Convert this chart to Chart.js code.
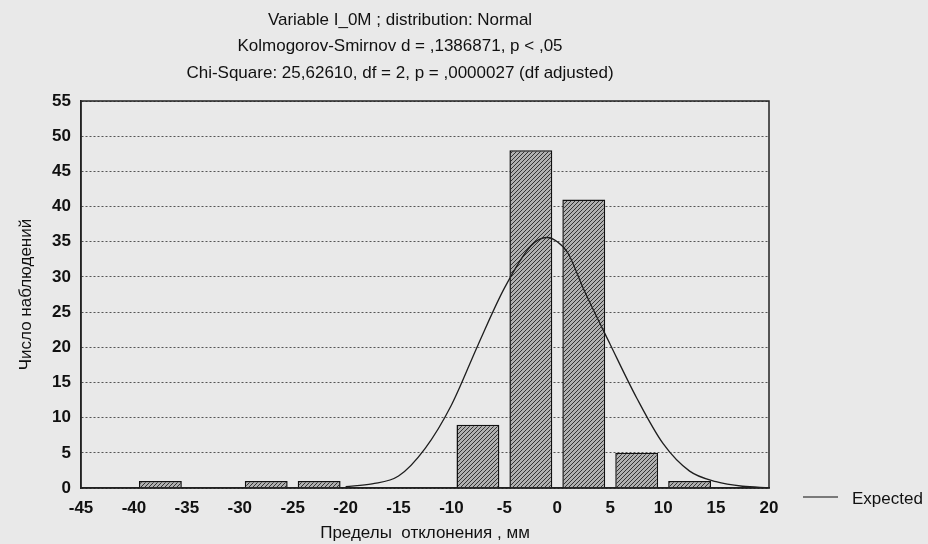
<!DOCTYPE html>
<html>
<head>
<meta charset="utf-8">
<script src="https://cdn.jsdelivr.net/npm/chart.js@4.4.1/dist/chart.umd.min.js"></script>
<style>
  html, body { margin: 0; padding: 0; background: #e9e9e9; }
  #wrap { width: 928px; height: 544px; }
</style>
</head>
<body>
<div id="wrap"><canvas id="grafico" width="928" height="544"></canvas></div>
<script>
// centros de los intervalos (ancho 5 mm) y frecuencias observadas
const centros = [-37.5, -32.5, -27.5, -22.5, -17.5, -12.5, -7.5, -2.5, 2.5, 7.5, 12.5, 17.5];
const frecuencias = [1, 0, 1, 1, 0, 0, 9, 48, 41, 5, 1, 0];

// curva esperada
const curvaX = [-20, -17.5, -15, -12.5, -10, -7.5, -5, -2.5, -1, 0, 1, 2.5, 5, 7.5, 10, 12.5, 15, 17.5, 20];
const curvaY = [0.2, 0.6, 1.7, 5.6, 11.8, 20.3, 28.4, 34.4, 35.6, 35.0, 33.4, 28.2, 20.4, 12.8, 6.3, 2.4, 0.9, 0.25, 0.05];

const titulos = [
  "Variable I_0M ; distribution: Normal",
  "Kolmogorov-Smirnov d = ,1386871, p < ,05",
  "Chi-Square: 25,62610, df = 2, p = ,0000027 (df adjusted)"
];
const leyenda = "Expected";
const FUENTE = "'Liberation Sans', Arial, sans-serif";

function crearRayado() {
  const c = document.createElement("canvas");
  c.width = 4; c.height = 4;
  const g = c.getContext("2d");
  g.fillStyle = "#b0b0b0";
  g.fillRect(0, 0, 4, 4);
  g.strokeStyle = "#333";
  g.lineWidth = 1;
  g.beginPath();
  g.moveTo(0, 4); g.lineTo(4, 0);
  g.moveTo(-1, 1); g.lineTo(1, -1);
  g.moveTo(3, 5); g.lineTo(5, 3);
  g.stroke();
  return g.createPattern(c, "repeat");
}

// titulo, marco y leyenda
const extras = {
  id: "extras",
  afterDraw(chart) {
    const ctx = chart.ctx;
    const a = chart.chartArea;
    ctx.save();
    ctx.strokeStyle = "#222";
    ctx.lineWidth = 1.5;
    ctx.strokeRect(a.left, a.top, a.right - a.left, a.bottom - a.top);

    ctx.fillStyle = "#111";
    ctx.font = "17px " + FUENTE;
    ctx.textAlign = "center";
    ctx.textBaseline = "middle";
    titulos.forEach((t, i) => ctx.fillText(t, 400, 20 + i * 26.5));

    ctx.strokeStyle = "#555";
    ctx.lineWidth = 1.5;
    ctx.beginPath();
    ctx.moveTo(803, 497); ctx.lineTo(838, 497);
    ctx.stroke();
    ctx.textAlign = "left";
    ctx.fillText(leyenda, 852, 499);
    ctx.restore();
  }
};

const ctx = document.getElementById("grafico").getContext("2d");
new Chart(ctx, {
  type: "bar",
  data: {
    datasets: [
      {
        type: "line",
        label: leyenda,
        data: curvaX.map((x, i) => ({ x: x, y: curvaY[i] })),
        borderColor: "#1e1e1e",
        borderWidth: 1.3,
        pointRadius: 0,
        fill: false,
        cubicInterpolationMode: "monotone",
        order: 0
      },
      {
        label: "Observed",
        data: centros.map((x, i) => ({ x: x, y: frecuencias[i] })),
        backgroundColor: crearRayado(),
        borderColor: "#111",
        borderWidth: 1.5,
        barPercentage: 1,
        categoryPercentage: 0.81,
        order: 1
      }
    ]
  },
  options: {
    responsive: false,
    animation: false,
    layout: { padding: { top: 101, right: 159, bottom: 0, left: 0 } },
    plugins: {
      legend: { display: false },
      tooltip: { enabled: false }
    },
    scales: {
      x: {
        type: "linear",
        min: -45,
        max: 20,
        offset: false,
        afterFit: s => { s.height = 56; },
        ticks: {
          stepSize: 5,
          color: "#111",
          padding: 2,
          font: { family: FUENTE, size: 17, weight: "bold" }
        },
        grid: { display: false, offset: false },
        border: { color: "#222", width: 1.5 },
        title: {
          display: true,
          text: "Пределы  отклонения , мм",
          color: "#111",
          font: { family: FUENTE, size: 17 },
          padding: { top: 0, bottom: 0 }
        }
      },
      y: {
        min: 0,
        max: 55,
        afterFit: s => { s.width = 81; },
        ticks: {
          stepSize: 5,
          color: "#111",
          padding: 10,
          font: { family: FUENTE, size: 17, weight: "bold" }
        },
        grid: {
          color: "#555",
          lineWidth: 1,
          drawTicks: false
        },
        border: { color: "#222", width: 1.5, dash: [2, 2] },
        title: {
          display: true,
          text: "Число наблюдений",
          color: "#111",
          font: { family: FUENTE, size: 17 },
          padding: { top: 16, bottom: 0 }
        }
      }
    }
  },
  plugins: [extras]
});
</script>
</body>
</html>
